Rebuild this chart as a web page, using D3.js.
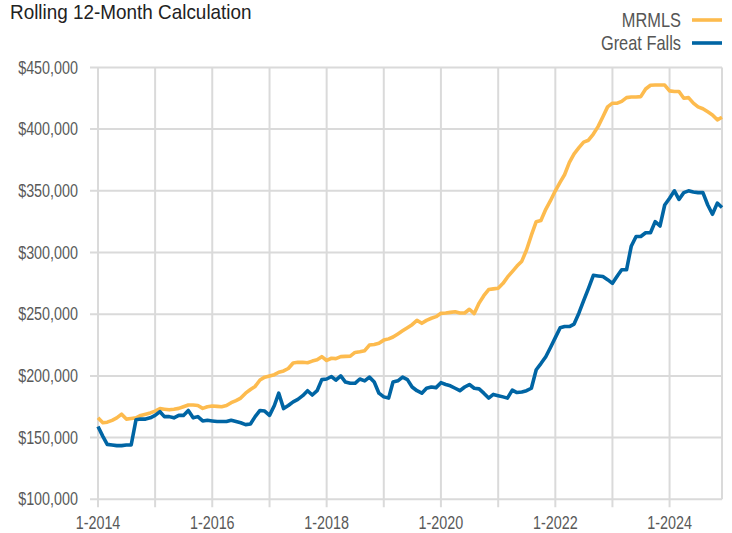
<!DOCTYPE html>
<html lang="en">
  <head>
    <meta charset="UTF-8" />
    <title>Rolling 12-Month Calculation</title>
    <script src="https://d3js.org/d3.v7.min.js"></script>
    <style>
      body {
        margin: 0;
        padding: 0;
        background: #fff;
      }
      svg {
        display: block;
        font-family: "Liberation Sans", Arial, sans-serif;
      }
      .title {
        font-size: 19.5px;
        fill: #222;
      }
      .tick-label {
        font-size: 17.5px;
        fill: #595959;
      }
      .legend-label {
        font-size: 20px;
        fill: #555;
      }
    </style>
  </head>
  <body>
    <svg width="732" height="533"></svg>
    <script>
      // monthly values, Jan 2014 .. Dec 2024, in thousands of dollars
      const mrmls = [
        166, 162, 162.5, 164, 166, 169, 165, 165.5, 166, 168, 169, 170,
        171.5, 173.5, 173, 172.5, 173, 173.7, 175, 176.4, 176.4, 176, 173.7, 175,
        175.6, 175.3, 175, 176, 178.3, 180, 182, 186, 189, 191.5, 196.7, 199,
        200, 201, 203, 204, 206, 210.5, 211, 211, 210.7, 212, 213, 215.6,
        212.5, 214.3, 214, 215.6, 215.8, 216, 219, 219.6, 220.4, 225, 225.5, 226.5,
        229, 230, 231.5, 234, 236.5, 239, 241.5, 245, 242.6, 245, 246.7, 248,
        250.7, 251, 251.5, 252, 251, 251, 254, 250.5, 259, 265, 270, 270.5,
        271, 275, 280, 284.5, 289, 293, 302, 314, 325, 326, 335, 342,
        350, 357, 363, 373, 380, 385, 389.5, 391, 396, 402, 410, 418,
        421, 421, 422.5, 425.5, 426, 426, 426.3, 432.5, 435.5, 435.7, 435.7, 435.7,
        431, 430.5, 430.5, 425, 425.5, 421, 418, 416.5, 414, 411.5, 407.5, 409.6,
      ];
      const greatFalls = [
        159, 151, 144.5, 144, 143.5, 143.5, 144, 144, 164.5, 165, 165, 166,
        168, 171, 167, 167, 166, 168, 168, 172, 166, 167, 163.5, 164,
        163.5, 163, 163, 163, 164, 163, 162, 160.5, 161, 167, 172, 171.5,
        168, 176, 186, 173.5, 176, 179, 181, 184, 188, 184.5, 188, 197,
        197.5, 199.5, 196.5, 200, 195, 194, 194, 197.5, 196, 199, 195, 186,
        183, 182, 195, 196, 199, 197, 191, 188, 186, 190, 191, 190.5,
        194.5, 193, 192, 190, 188, 191, 193, 190, 189.5, 186, 182, 185,
        184, 183, 182, 188.5, 186.5, 187, 188, 190, 205, 210, 215.5, 223,
        231, 239, 240, 240, 242, 251, 261, 271, 281.5, 281, 280.5, 278,
        275, 281, 286, 286, 305, 313, 313, 316, 316, 325, 321.5, 338.5,
        344, 350, 343, 348.5, 350, 349, 348.5, 348.5, 338.5, 331, 340, 336.5,
      ];
      const yTicks = [100, 150, 200, 250, 300, 350, 400, 450];
      const labelYears = [2014, 2016, 2018, 2020, 2022, 2024];
      const seriesNames = ["MRMLS", "Great Falls"];
      const seriesColors = ["#FDBB4E", "#0065A4"];

      const narrow = 0.82; // squeeze text horizontally, like a narrow face

      const months = d3.range(mrmls.length).map((i) => new Date(2014, i, 1));
      const svg = d3.select("svg");

      const x = d3
        .scaleTime()
        .domain([months[0], months[months.length - 1]])
        .range([98, 722]);
      const y = d3.scaleLinear().domain([100, 450]).range([499.3, 67.4]);

      // vertical grid (yearly) + right border
      const yearDates = d3.timeYear.range(new Date(2014, 0, 1), new Date(2025, 0, 1));
      const grid = svg.append("g").attr("stroke", "#dadada").attr("stroke-width", 2);
      grid
        .selectAll(".vx")
        .data(yearDates.concat([months[months.length - 1]]))
        .join("line")
        .attr("x1", (d) => x(d))
        .attr("x2", (d) => x(d))
        .attr("y1", y(450))
        .attr("y2", (d, i) => (i < yearDates.length ? y(100) + 8 : y(100)));
      grid
        .selectAll(".hy")
        .data(yTicks)
        .join("line")
        .attr("x1", 90)
        .attr("x2", 722)
        .attr("y1", (d) => y(d))
        .attr("y2", (d) => y(d));

      svg
        .append("g")
        .selectAll("text")
        .data(yTicks)
        .join("text")
        .attr("class", "tick-label")
        .attr("transform", (d) => `translate(78,${y(d)}) scale(${narrow},1)`)
        .attr("dy", "0.35em")
        .attr("text-anchor", "end")
        .text((d) => "$" + d3.format(",")(d * 1000));

      svg
        .append("g")
        .selectAll("text")
        .data(labelYears)
        .join("text")
        .attr("class", "tick-label")
        .attr("transform", (d) => `translate(${x(new Date(d, 0, 1))},529) scale(${narrow},1)`)
        .attr("text-anchor", "middle")
        .text((d) => "1-" + d);

      const line = d3
        .line()
        .x((d, i) => x(months[i]))
        .y((d) => y(d));

      [mrmls, greatFalls].forEach((s, k) => {
        svg
          .append("path")
          .datum(s)
          .attr("fill", "none")
          .attr("stroke", seriesColors[k])
          .attr("stroke-width", 3.6)
          .attr("stroke-linejoin", "round")
          .attr("d", line);
      });

      svg
        .append("text")
        .attr("class", "title")
        .attr("transform", "translate(10,19) scale(0.97,1)")
        .text("Rolling 12-Month Calculation");

      const legend = svg
        .append("g")
        .selectAll("g")
        .data(seriesNames)
        .join("g")
        .attr("transform", (d, i) => `translate(0,${20 + i * 23})`);
      legend
        .append("text")
        .attr("class", "legend-label")
        .attr("transform", `translate(681,0) scale(${narrow},1)`)
        .attr("dy", "0.35em")
        .attr("text-anchor", "end")
        .text((d) => d);
      legend
        .append("line")
        .attr("x1", 692)
        .attr("x2", 722)
        .attr("stroke", (d, i) => seriesColors[i])
        .attr("stroke-width", 3.6);
    </script>
  </body>
</html>
